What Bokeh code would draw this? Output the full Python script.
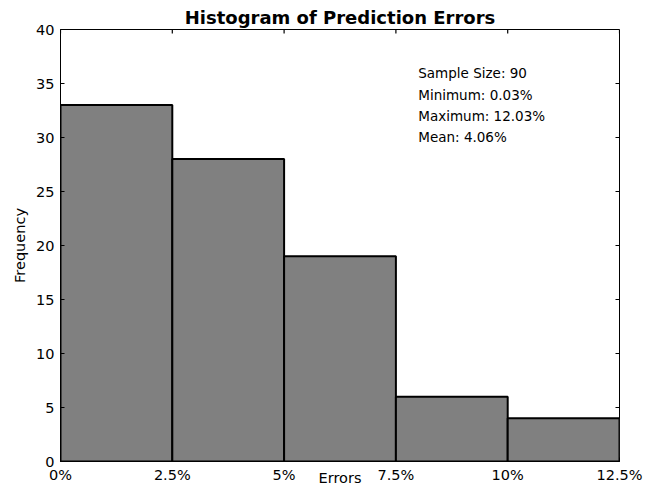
from bokeh.plotting import figure
from bokeh.models import FixedTicker, Label, Range1d
from bokeh.embed import file_html
from bokeh.resources import INLINE

# ---- data ----
bin_left = [0.0, 2.5, 5.0, 7.5, 10.0]
bin_right = [2.5, 5.0, 7.5, 10.0, 12.5]
counts = [33, 28, 19, 6, 4]
x_ticks = [0, 2.5, 5, 7.5, 10, 12.5]
x_tick_labels = ["0%", "2.5%", "5%", "7.5%", "10%", "12.5%"]
y_ticks = [0, 5, 10, 15, 20, 25, 30, 35, 40]
stats_lines = ["Sample Size: 90", "Minimum: 0.03%", "Maximum: 12.03%", "Mean: 4.06%"]
stats_x = 8.0
stats_y = 35.95
x_min, x_max = 0, 12.5
y_min, y_max = 0, 40

FONT = "DejaVu Sans"
TICK_SIZE = "14.5px"
W, H = 644, 488
B_LEFT, B_RIGHT, B_TOP, B_BOTTOM = 60, 25, 29, 27
FRAME_W = W - B_LEFT - B_RIGHT
FRAME_H = H - B_TOP - B_BOTTOM
TICK_PX = 4

p = figure(width=W, height=H, output_backend="svg", toolbar_location=None,
           x_range=Range1d(x_min, x_max), y_range=Range1d(y_min, y_max),
           min_border_left=B_LEFT, min_border_right=B_RIGHT,
           min_border_top=B_TOP, min_border_bottom=B_BOTTOM,
           title="Histogram of Prediction Errors",
           x_axis_label="Errors", y_axis_label="Frequency")

p.title.align = "center"
p.title.text_font = FONT
p.title.text_font_size = "18px"
p.title.text_font_style = "bold"
p.title.text_color = "black"
p.title.standoff = 3
p.title.offset = 0

p.grid.visible = False
p.outline_line_color = "black"
p.outline_line_width = 1
p.background_fill_color = "white"
p.border_fill_color = "white"

p.quad(left=bin_left, right=bin_right, top=counts, bottom=0,
       fill_color="#808080", line_color="black", line_width=2)

# inward ticks on the top and right edges
dy = TICK_PX * (y_max - y_min) / FRAME_H
dx = TICK_PX * (x_max - x_min) / FRAME_W
p.segment(x0=x_ticks, x1=x_ticks, y0=[y_max] * len(x_ticks), y1=[y_max - dy] * len(x_ticks),
          line_color="black", line_width=1.2)
p.segment(x0=[x_max] * len(y_ticks), x1=[x_max - dx] * len(y_ticks), y0=y_ticks, y1=y_ticks,
          line_color="black", line_width=1.2)

def style_axis(ax):
    ax.major_tick_in = TICK_PX
    ax.major_tick_out = 0
    ax.minor_tick_line_color = None
    ax.axis_line_color = "black"
    ax.major_tick_line_color = "black"
    ax.major_label_text_font = FONT
    ax.major_label_text_color = "black"
    ax.major_label_text_font_size = TICK_SIZE
    ax.axis_label_text_font = FONT
    ax.axis_label_text_font_style = "normal"
    ax.axis_label_text_color = "black"
    ax.axis_label_text_font_size = TICK_SIZE

xa = p.xaxis[0]
xa.ticker = FixedTicker(ticks=x_ticks)
xa.major_label_overrides = {t: l for t, l in zip(x_ticks, x_tick_labels)}
style_axis(xa)
xa.major_label_standoff = 5
xa.axis_label_standoff = -16

ya = p.yaxis[0]
ya.ticker = FixedTicker(ticks=y_ticks)
style_axis(ya)
ya.major_label_standoff = 6
ya.axis_label_standoff = 5

for i, line in enumerate(stats_lines):
    p.add_layout(Label(x=stats_x, y=stats_y, y_offset=-21.3 * i, text=line,
                       text_font=FONT, text_font_size="13.5px", text_color="black",
                       text_baseline="alphabetic", text_align="left"))

open("out.html", "w").write(file_html(p, INLINE))
